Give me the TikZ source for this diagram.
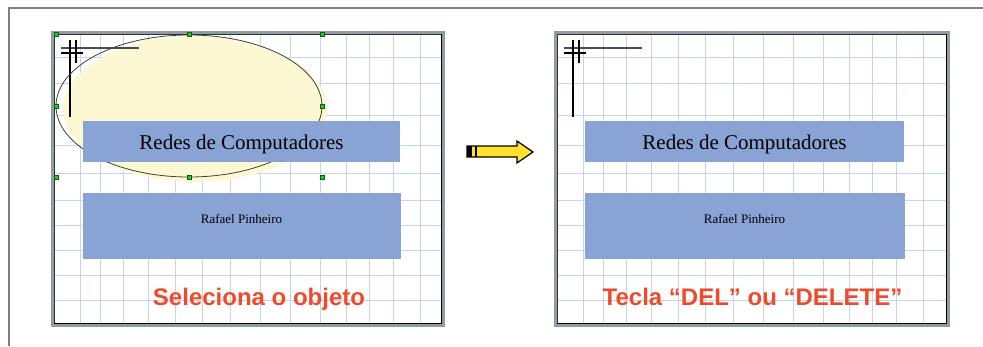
\documentclass[tikz,border=0pt]{standalone}
\usepackage{fontspec}
\setmainfont{Liberation Serif}
\newfontfamily\lsans{Liberation Sans}
\definecolor{framegray}{HTML}{808080}
\definecolor{slideborder}{HTML}{8E9CA3}
\definecolor{gridblue}{HTML}{C6D3EE}
\definecolor{boxblue}{HTML}{88A3D4}
\definecolor{ellfill}{HTML}{FCF8D4}
\definecolor{arrowyellow}{HTML}{FFE12E}
\definecolor{redtext}{HTML}{EE4B2B}
\definecolor{handlegreen}{HTML}{3DB54A}
\begin{document}
\begin{tikzpicture}[x=1pt,y=-1pt,
  gridline/.style={gridblue,line width=0.9pt},
  bluebox/.style={fill=boxblue,draw=none,inner sep=0pt,outer sep=0pt},
  titletext/.style={anchor=base,inner sep=0pt,font=\fontsize{21}{25}\selectfont},
  subtext/.style={anchor=base,inner sep=0pt,font=\fontsize{13}{15}\selectfont},
  redlabel/.style={anchor=base,inner sep=0pt,text=redtext,font=\lsans\bfseries\fontsize{24}{28}\selectfont},
  cropmark/.style={line width=1.4pt,black},
  handle/.style={fill=handlegreen,draw=black!60!green,line width=0.4pt,minimum size=4pt,inner sep=0pt}
]
\useasboundingbox (0,0) rectangle (983,346);
\fill[white] (0,0) rectangle (983,346);
% outer frame
\draw[framegray,line width=2pt] (9,346) -- (9,8) -- (983,8);
% slides
\foreach \ox/\w in {53/390,556/392}{
  \fill[white] (\ox,33) rectangle ({\ox+\w},325);
  \foreach \gx in {27,47,70,95,122,149,177,207,237,267,293,316,340,367}
    \draw[gridline] ({\ox+\gx},34) -- ({\ox+\gx},324);
  \foreach \gy in {57,83,115,145,173,200,225,250,275,300}
    \draw[gridline] ({\ox+1},\gy) -- ({\ox+\w-1},\gy);
}
% selected ellipse fill (left slide)
\fill[ellfill] (195,109) ellipse [x radius=132, y radius=73];
% crop marks
\foreach \ox in {53,556}{
  \draw[cropmark,black!70] ({\ox+8},48) -- ({\ox+86},48);
  \draw[cropmark] ({\ox+8},53) -- ({\ox+30},53);
  \draw[cropmark] ({\ox+17},40) -- ({\ox+17},117);
  \draw[cropmark] ({\ox+23},40) -- ({\ox+23},63);
}
\draw[black!75,line width=0.8pt] (189,106) ellipse [x radius=133, y radius=71];
% slide borders
\foreach \ox/\w in {53/390,556/392}{
  \draw[slideborder,line width=3.5pt] (\ox,33) rectangle ({\ox+\w},325);
  \draw[black!80,line width=0.6pt] ({\ox+1.5},34.5) rectangle ({\ox+\w-1.5},323.5);
  \draw[black,line width=1.6pt] ({\ox+\w-1.5},34) -- ({\ox+\w-1.5},323.5) -- ({\ox+1},323.5);
}
% boxes
\node[bluebox,minimum width=317pt,minimum height=41pt] (t1) at (241.5,141.5) {};
\node[bluebox,minimum width=319pt,minimum height=41pt] (t2) at (744.5,141.5) {};
\node[bluebox,minimum width=318pt,minimum height=66pt] (s1) at (242,226) {};
\node[bluebox,minimum width=320pt,minimum height=66pt] (s2) at (745,226) {};
\node[titletext] (tt1) at (241.5,149) {Redes de Computadores};
\node[titletext] (tt2) at (744.5,149) {Redes de Computadores};
\node[subtext] (st1) at (241.5,223) {Rafael Pinheiro};
\node[subtext] (st2) at (744.5,223) {Rafael Pinheiro};
\node[redlabel] (r1) at (259,305) {Seleciona o objeto};
\node[redlabel] (r2) at (752.5,305) {Tecla “DEL” ou “DELETE”};
% selection handles
\foreach \hx/\hy [count=\i] in {56/34,189/34,322/34,56/106,322/106,56/177,189/177,322/177}
  \node[handle] (h\i) at (\hx,\hy) {};
% arrow
\draw[fill=arrowyellow,line width=1.2pt,line join=miter] (467,146) -- (517,146) -- (517,141) -- (533,152) -- (517,163) -- (517,157) -- (467,157) -- cycle;
\fill[black] (467,146) rectangle (472,157);
\draw[black,line width=1.2pt] (476,146) -- (476,157);
\end{tikzpicture}
\end{document}
